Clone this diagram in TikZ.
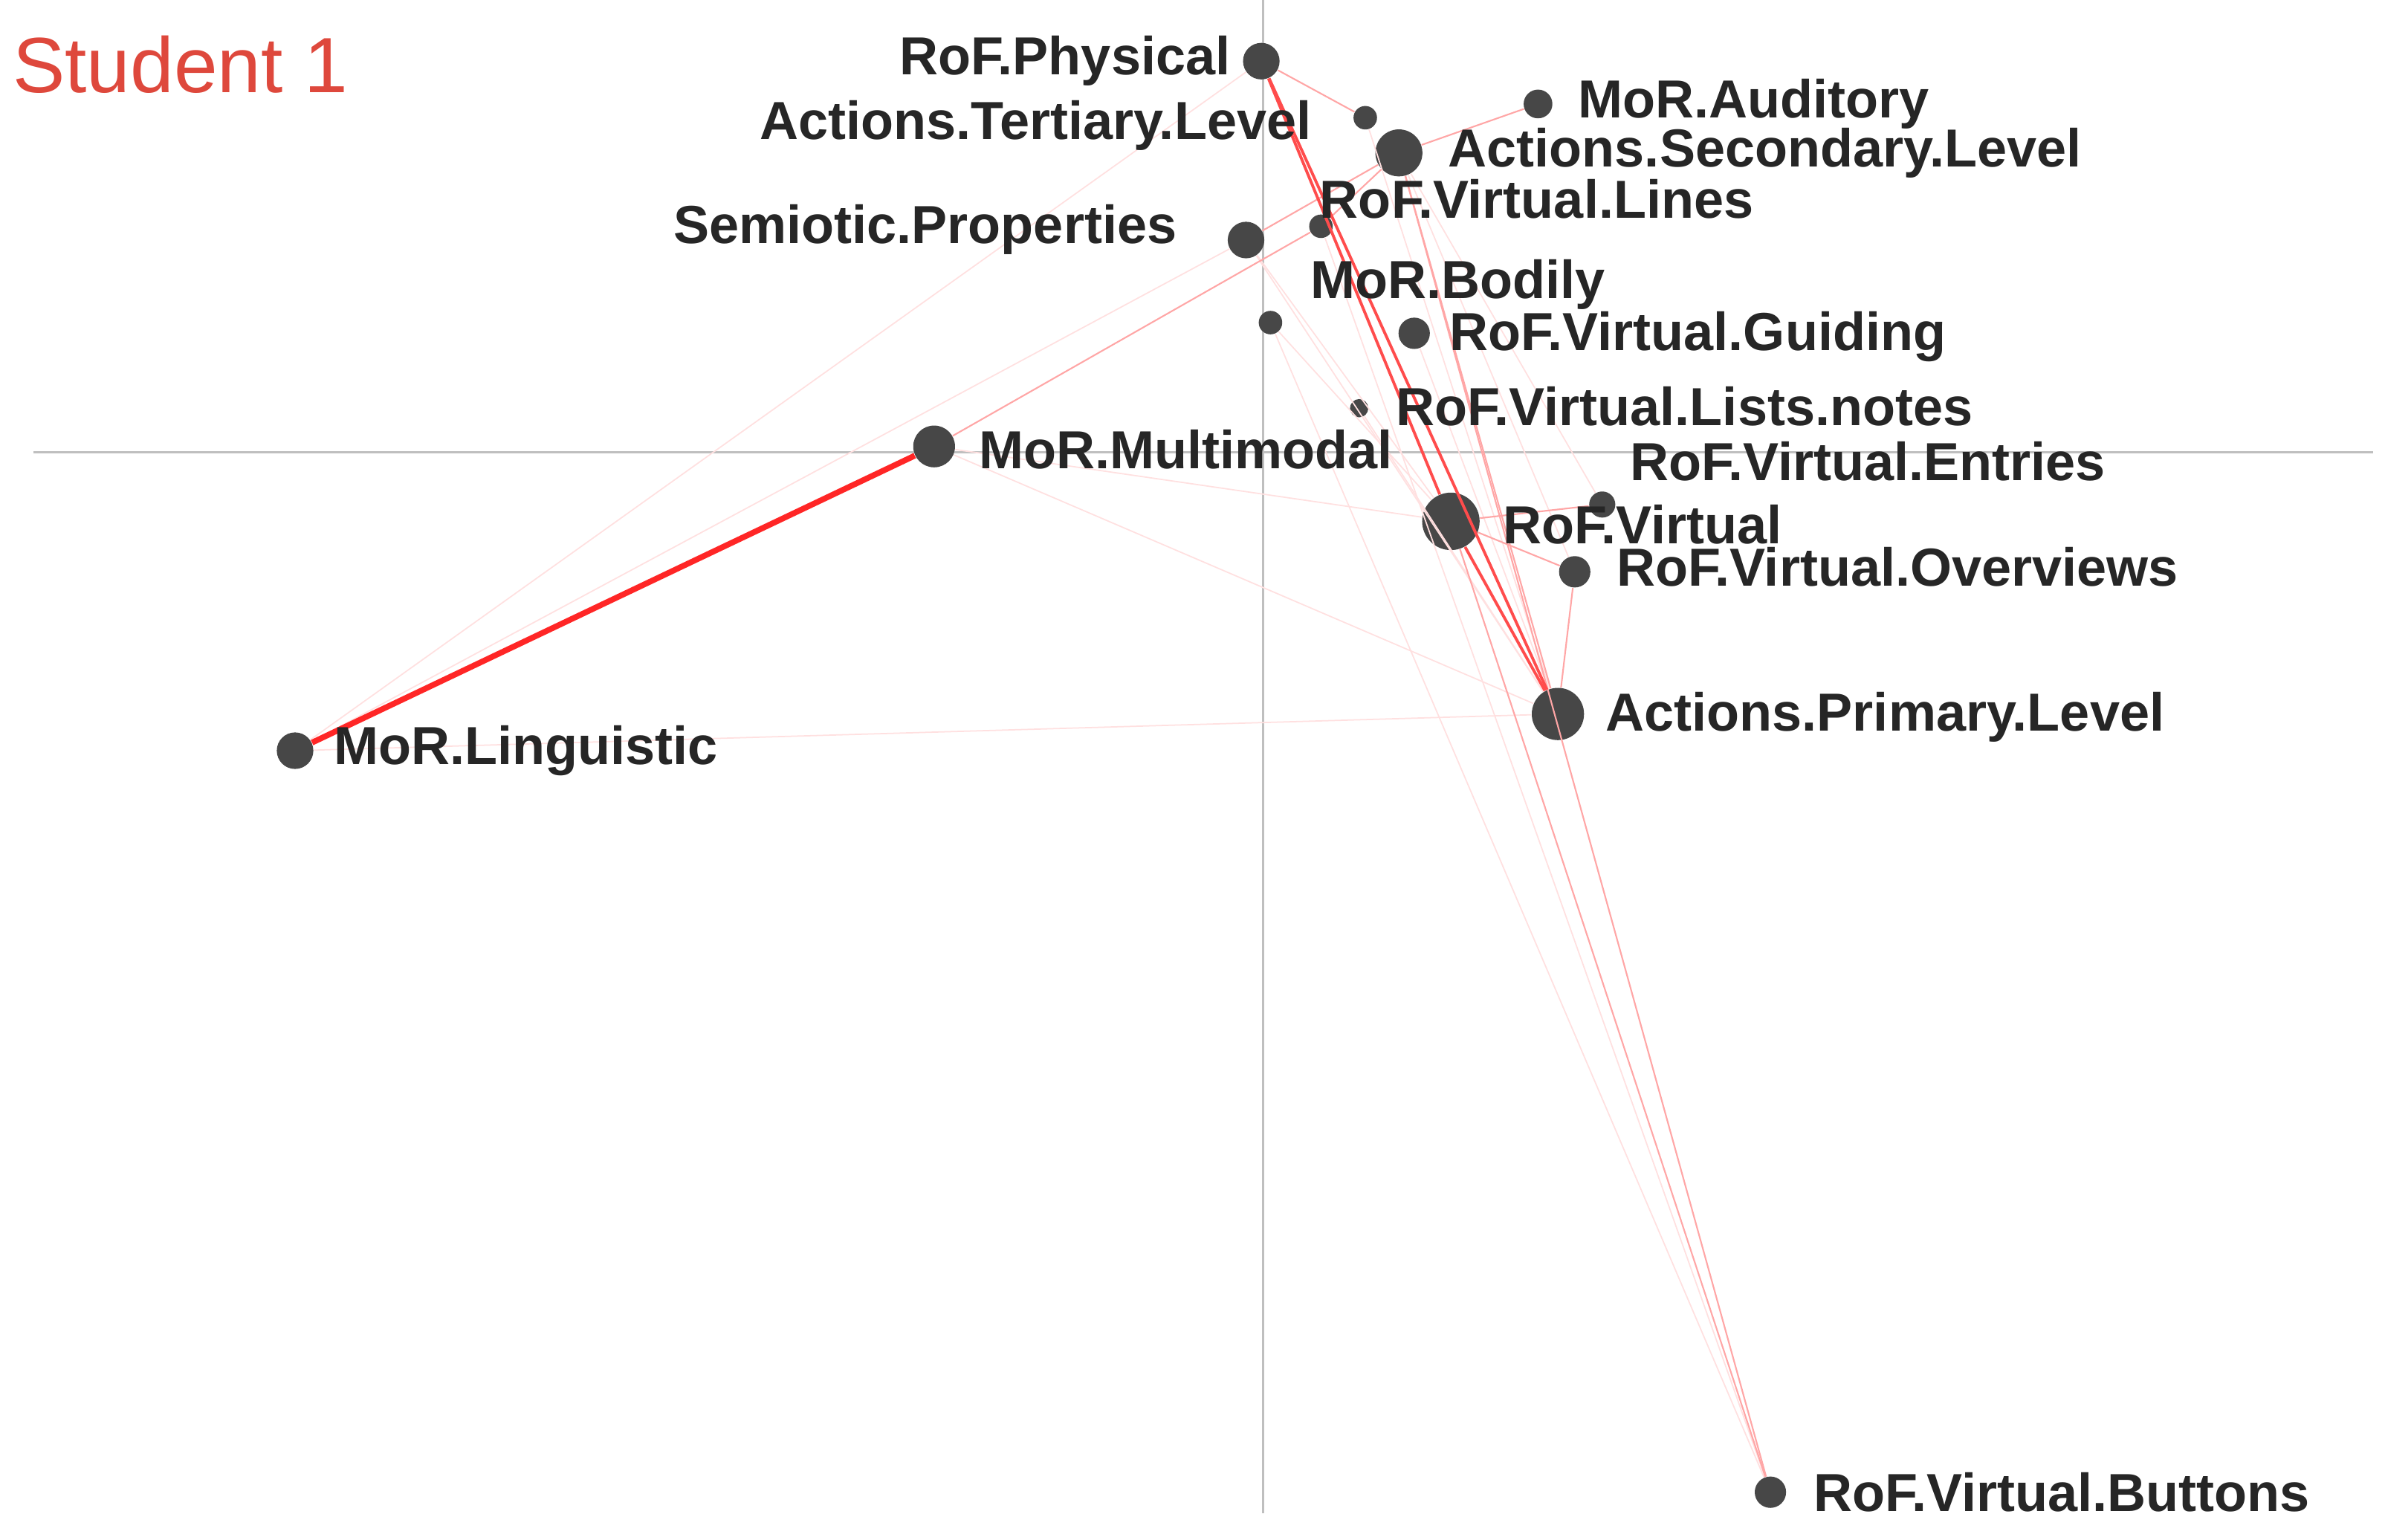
\documentclass[tikz,border=0pt]{standalone}
\usepackage{fontspec}
\setmainfont{Liberation Sans}
\begin{document}
\begin{tikzpicture}[x=0.02057cm,y=-0.02057cm,
 dot/.style={circle,fill=black!72,inner sep=0pt,minimum size=#1},
 lab/.style={font=\fontsize{20.5}{22}\selectfont\bfseries,text=black!85,inner sep=0pt},
 e1/.style={red!85,line width=2.2pt},
 e2/.style={red!70,line width=1.1pt},
 e3/.style={red!35,line width=0.6pt},
 e4/.style={red!12,line width=0.5pt}]
\useasboundingbox (0,0) rectangle (1560,1007);
\draw[black!25,line width=0.8pt] (22,296) -- (1552,296);
\draw[black!25,line width=0.8pt] (826,0) -- (826,990);
\node[anchor=west,text={rgb,255:red,222;green,72;blue,60},font=\fontsize{30}{32}\selectfont,inner sep=0pt] (title) at (8,42) {Student 1};
\node[dot=14pt] (phys) at (825,40) {};
\node[dot=9pt] (tert) at (893,77) {};
\node[dot=11pt] (aud) at (1006,68) {};
\node[dot=18pt] (sec) at (915,100) {};
\node[dot=9pt] (lines) at (864,148) {};
\node[dot=14pt] (sem) at (815,157) {};
\node[dot=9pt] (bod) at (831,211) {};
\node[dot=12pt] (guid) at (925,218) {};
\node[dot=7pt] (lists) at (889,267) {};
\node[dot=16pt] (multi) at (611,292) {};
\node[dot=10pt] (entr) at (1048,330) {};
\node[dot=22pt] (virt) at (949,341) {};
\node[dot=12pt] (over) at (1030,374) {};
\node[dot=20pt] (prim) at (1019,467) {};
\node[dot=14pt] (ling) at (193,491) {};
\node[dot=12pt] (butt) at (1158,976) {};
\draw[e4] (ling) -- (prim); \draw[e4] (ling) -- (phys); \draw[e4] (ling) -- (sem);
\draw[e4] (multi) -- (prim); \draw[e4] (multi) -- (virt); \draw[e4] (sem) -- (virt);
\draw[e4] (sem) -- (prim); \draw[e4] (bod) -- (virt); \draw[e4] (lists) -- (prim);
\draw[e4] (guid) -- (prim); \draw[e4] (tert) -- (prim); \draw[e4] (sec) -- (over);
\draw[e4] (lines) -- (butt); \draw[e4] (bod) -- (butt); \draw[e4] (sec) -- (entr);
\draw[e3] (multi) -- (lines); \draw[e3] (sec) -- (aud); \draw[e3] (sec) -- (butt);
\draw[e3] (virt) -- (butt); \draw[e3] (virt) -- (over); \draw[e3] (over) -- (prim);
\draw[e3] (virt) -- (entr); \draw[e3] (phys) -- (tert); \draw[e3] (sem) -- (sec);
\draw[e3] (sec) -- (prim); \draw[e3] (lines) -- (sec);
\draw[e2] (phys) -- (prim); \draw[e2] (phys) -- (virt); \draw[e2] (virt) -- (prim);
\draw[e1] (ling) -- (multi);
\node[lab,anchor=east] at (805,40) {RoF.Physical};
\node[lab,anchor=east] at (858,82) {Actions.Tertiary.Level};
\node[lab,anchor=west] at (1032,68) {MoR.Auditory};
\node[lab,anchor=west] at (947,100) {Actions.Secondary.Level};
\node[lab,anchor=west] at (863,130) {RoF.Virtual.Lines};
\node[lab,anchor=east] at (770,150) {Semiotic.Properties};
\node[lab,anchor=west] at (857,186) {MoR.Bodily};
\node[lab,anchor=west] at (948,220) {RoF.Virtual.Guiding};
\node[lab,anchor=west] at (913,266) {RoF.Virtual.Lists.notes};
\node[lab,anchor=west] at (640,294) {MoR.Multimodal};
\node[lab,anchor=west] at (1066,302) {RoF.Virtual.Entries};
\node[lab,anchor=west] at (983,343) {RoF.Virtual};
\node[lab,anchor=west] at (1057,371) {RoF.Virtual.Overviews};
\node[lab,anchor=west] at (1050,469) {Actions.Primary.Level};
\node[lab,anchor=west] at (218,491) {MoR.Linguistic};
\node[lab,anchor=west] at (1186,976) {RoF.Virtual.Buttons};
\end{tikzpicture}
\end{document}
